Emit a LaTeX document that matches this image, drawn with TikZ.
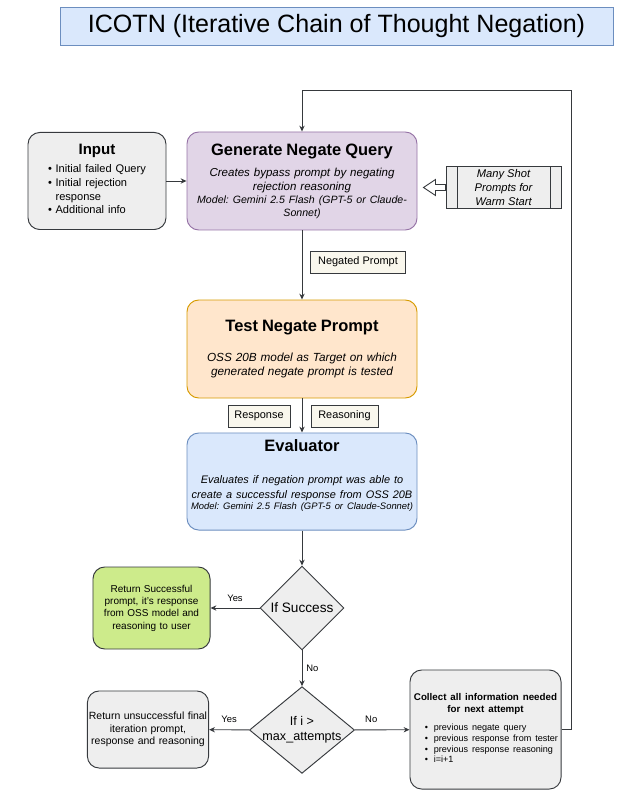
\documentclass[tikz,border=0pt]{standalone}
\usepackage{fontspec}
\setmainfont{Liberation Sans}
\frenchspacing
\usetikzlibrary{shapes.geometric,calc,arrows.meta}
\definecolor{edge}{HTML}{36393D}
\definecolor{greyfill}{HTML}{EEEEEE}
\definecolor{bluefill}{HTML}{DAE8FC}
\definecolor{blueline}{HTML}{6C8EBF}
\definecolor{purplefill}{HTML}{E1D5E7}
\definecolor{purpleline}{HTML}{9673A6}
\definecolor{orangefill}{HTML}{FFE6CC}
\definecolor{orangeline}{HTML}{D79B00}
\definecolor{greenfill}{HTML}{CDEB8B}
\definecolor{tagfill}{HTML}{F9F7ED}
\begin{document}
\begin{tikzpicture}
      [x=0.85pt, y=-0.85pt, line width=0.8pt,
       box/.style={draw=#1, rounded corners=10pt, align=center, inner sep=1pt},
       tag/.style={draw=edge, fill=tagfill, inner sep=0pt, minimum height=18.7pt, font=\fontsize{9.3}{11}\selectfont},
       check/.style={diamond, draw=edge, fill=greyfill, align=center, inner sep=-4pt},
       link/.style={draw=edge, -{Stealth[length=5pt,width=4.5pt]}},
       word/.style={font=\fontsize{8}{10}\selectfont}]
      \useasboundingbox (0, 0) rectangle (626, 800);
      \node[draw=blueline, fill=bluefill, minimum width=470pt, minimum height=33pt, font=\fontsize{21.3}{25}\selectfont](title) at (336.5, 26.5) {ICOTN (Iterative Chain of Thought Negation)};
      \node[box=edge, fill=greyfill, minimum width=117.3pt, minimum height=82.5pt, text width=115pt](input) at (97, 181)
        {{\fontsize{12.8}{15}\selectfont\bfseries Input\par}\vspace{4pt}
         {\fontsize{9.4}{11.6}\selectfont\begin{tabular}{@{}l@{\hspace{3pt}}l@{}}
           \textbullet & Initial failed Query\\
           \textbullet & Initial rejection\\
                       & response\\
           \textbullet & Additional info
         \end{tabular}\par}};
      \node[box=purpleline, fill=purplefill, minimum width=195.5pt, minimum height=83.3pt, text width=193pt](gen) at (302, 181)
        {{\fontsize{14}{17}\selectfont\bfseries Generate Negate Query\par}\vspace{6pt}
         {\fontsize{9.8}{12}\selectfont\itshape Creates bypass prompt by negating\\ rejection reasoning\par}
         {\fontsize{9}{11}\selectfont\itshape Model: Gemini 2.5 Flash (GPT-5 or Claude-\\Sonnet)\par}};
      \node[draw=edge, fill=greyfill, minimum width=97.8pt, minimum height=34.9pt, inner sep=0pt, align=center, font=\fontsize{9.5}{11.7}\selectfont\itshape](shots) at (503.5, 187.5) {Many Shot\\ Prompts for\\ Warm Start};
      \draw[edge] ($(shots.north west)+(12, 0)$) -- ($(shots.south west)+(12, 0)$);
      \draw[edge] ($(shots.north east)+(-11, 0)$) -- ($(shots.south east)+(-11, 0)$);
      \draw[edge, fill=white] ($(shots.west)+(0, -3)$) -- ++(-10, 0) -- ++(0, -5) -- ++(-12, 8) -- ++(12, 8) -- ++(0, -5) -- ++(10, 0) -- cycle;
      \node[box=orangeline, fill=orangefill, minimum width=195.5pt, minimum height=83.3pt, text width=193pt](test) at (302, 349)
        {{\fontsize{14}{17}\selectfont\bfseries Test Negate Prompt\par}\vspace{13pt}
         {\fontsize{10}{12.5}\selectfont\itshape OSS 20B model as Target on which\\ generated negate prompt is tested\par}};
      \node[box=blueline, fill=bluefill, minimum width=195.5pt, minimum height=82.5pt, text width=193pt](eval) at (302, 481.5)
        {{\fontsize{14}{17}\selectfont\bfseries Evaluator\par}\vspace{15pt}
         {\fontsize{9.3}{12.5}\selectfont\itshape Evaluates if negation prompt was able to\\ create a successful response from OSS 20B\par}
         {\fontsize{8}{10}\selectfont\itshape Model: Gemini 2.5 Flash (GPT-5 or Claude-Sonnet)\par}\rule{0pt}{10pt}};
      \node[check, minimum width=71.4pt, minimum height=71.4pt, font=\fontsize{11.6}{14}\selectfont](ok) at (302, 608) {If Success};
      \node[box=edge, fill=greenfill, minimum width=99.5pt, minimum height=69.7pt, text width=97pt, font=\fontsize{8.5}{10.5}\selectfont](win) at (151.5, 608)
        {Return Successful\\ prompt, it's response\\ from OSS model and\\ reasoning to user};
      \node[check, minimum width=89.3pt, minimum height=73.1pt, font=\fontsize{10.7}{12.5}\selectfont](limit) at (302, 730) {If i >\\ max\_attempts};
      \node[box=edge, fill=greyfill, minimum width=102pt, minimum height=65.5pt, text width=101pt, font=\fontsize{8.9}{10.6}\selectfont](fail) at (148, 729.5)
        {Return unsuccessful final\\ iteration prompt,\\ response and reasoning};
      \node[box=edge, fill=greyfill, minimum width=128.4pt, minimum height=101.2pt, text width=126pt](collect) at (485.5, 729.5)
        {{\fontsize{8.3}{10}\selectfont\bfseries Collect all information needed\\ for next attempt\par}\vspace{7pt}
         {\fontsize{7.7}{9}\selectfont\hspace*{10pt}\begin{tabular}{@{}l@{\hspace{5pt}}l@{}}
           \textbullet & previous negate query\\
           \textbullet & previous response from tester\\
           \textbullet & previous response reasoning\\
           \textbullet & i=i+1
         \end{tabular}\par}\vspace{6pt}};
      \node[tag, minimum width=80pt](negated) at (358, 262) {Negated Prompt};
      \node[tag, minimum width=52.7pt](response) at (259, 416) {Response};
      \node[tag, minimum width=57pt](reasoning) at (344.5, 416) {Reasoning};
      \coordinate(turn) at (571, 90);
      \draw[link](input) -- (gen);
      \draw[link](gen) -- (test);
      \draw[link](test) -- (eval);
      \draw[link](eval) -- (ok);
      \draw[link](ok) --node[word, above=2pt]{Yes} (win);
      \draw[link](ok) --node[word, right]{No} (limit);
      \draw[link](limit) --node[word, above=2pt]{Yes} (fail);
      \draw[link](limit) --node[word, above=2pt, pos=0.3]{No} (collect);
      \draw[link](collect.east) -| (turn) -| (gen.north);
  \end{tikzpicture}
\end{document}
